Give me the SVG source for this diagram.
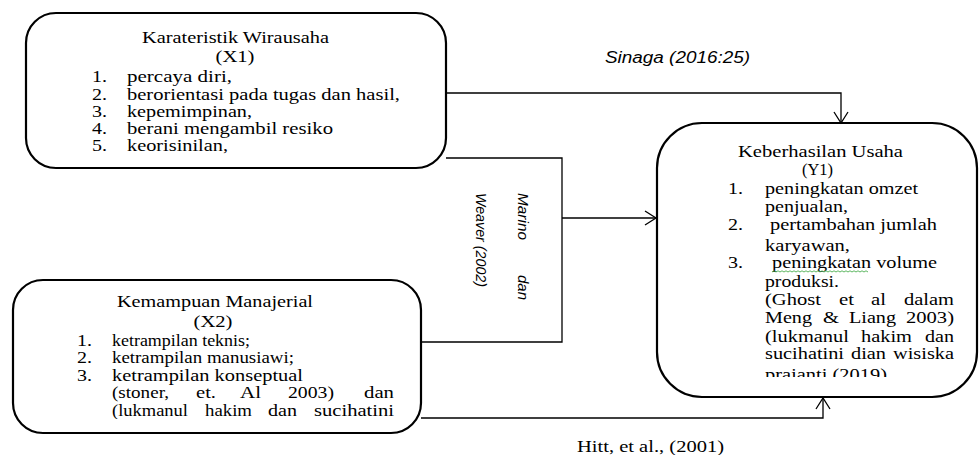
<svg xmlns="http://www.w3.org/2000/svg" width="979" height="455" viewBox="0 0 979 455">
<style>
.box{fill:#fff;stroke:#000;stroke-width:2.2}
.con{fill:none;stroke:#000;stroke-width:1.3}
.t{font-family:"Liberation Serif","Times New Roman",serif;font-size:17px;fill:#000}
.m{text-anchor:middle}
.e{text-anchor:end}
.i{font-family:"Liberation Sans",Arial,sans-serif;font-style:italic;fill:#000}
</style>
<defs>
<marker id="arr" markerUnits="userSpaceOnUse" markerWidth="14" markerHeight="18" viewBox="-12 -9 14 18" refX="0" refY="0" orient="auto"><path d="M-11,-7 L0,0 L-11,7" fill="none" stroke="#000" stroke-width="1.3"/></marker>
<clipPath id="cr"><rect x="0" y="120" width="1000" height="257"/></clipPath>
<clipPath id="cb"><rect x="0" y="275" width="1000" height="144"/></clipPath>
</defs>

<g id="node-x1" class="t">
<rect class="box" x="26" y="13" width="420" height="155" rx="30"/>
<text class="m" x="235.5" y="43" textLength="187" lengthAdjust="spacingAndGlyphs">Karateristik Wirausaha</text>
<text class="m" x="235" y="62" textLength="39" lengthAdjust="spacingAndGlyphs">(X1)</text>
<text x="92" y="82" textLength="15" lengthAdjust="spacingAndGlyphs">1.</text>
<text x="127" y="82" textLength="105" lengthAdjust="spacingAndGlyphs">percaya diri,</text>
<text x="92" y="100" textLength="15" lengthAdjust="spacingAndGlyphs">2.</text>
<text x="127" y="100" textLength="273" lengthAdjust="spacingAndGlyphs">berorientasi pada tugas dan hasil,</text>
<text x="92" y="117" textLength="15" lengthAdjust="spacingAndGlyphs">3.</text>
<text x="127" y="117" textLength="125" lengthAdjust="spacingAndGlyphs">kepemimpinan,</text>
<text x="92" y="134" textLength="15" lengthAdjust="spacingAndGlyphs">4.</text>
<text x="127" y="134" textLength="206" lengthAdjust="spacingAndGlyphs">berani mengambil resiko</text>
<text x="92" y="151" textLength="15" lengthAdjust="spacingAndGlyphs">5.</text>
<text x="127" y="151" textLength="101" lengthAdjust="spacingAndGlyphs">keorisinilan,</text>
</g>

<g id="node-x2" class="t">
<rect class="box" x="13" y="280" width="408" height="153" rx="30"/>
<text class="m" x="215" y="307" textLength="196" lengthAdjust="spacingAndGlyphs">Kemampuan Manajerial</text>
<text class="m" x="213" y="327" textLength="39" lengthAdjust="spacingAndGlyphs">(X2)</text>
<text x="77" y="346" textLength="15" lengthAdjust="spacingAndGlyphs">1.</text>
<text x="112" y="346" textLength="138" lengthAdjust="spacingAndGlyphs">ketrampilan teknis;</text>
<text x="77" y="363" textLength="15" lengthAdjust="spacingAndGlyphs">2.</text>
<text x="112" y="363" textLength="182" lengthAdjust="spacingAndGlyphs">ketrampilan manusiawi;</text>
<text x="77" y="381" textLength="15" lengthAdjust="spacingAndGlyphs">3.</text>
<text x="112" y="381" textLength="191" lengthAdjust="spacingAndGlyphs">ketrampilan konseptual</text>
<text x="112" y="398" textLength="57" lengthAdjust="spacingAndGlyphs">(stoner,</text>
<text x="196" y="398" textLength="20" lengthAdjust="spacingAndGlyphs">et.</text>
<text x="240" y="398" textLength="21" lengthAdjust="spacingAndGlyphs">Al</text>
<text x="288" y="398" textLength="46" lengthAdjust="spacingAndGlyphs">2003)</text>
<text class="e" x="394" y="398" textLength="30" lengthAdjust="spacingAndGlyphs">dan</text>
<g clip-path="url(#cb)">
<text x="112" y="416" textLength="76" lengthAdjust="spacingAndGlyphs">(lukmanul</text>
<text x="205" y="416" textLength="47" lengthAdjust="spacingAndGlyphs">hakim</text>
<text x="268" y="416" textLength="29" lengthAdjust="spacingAndGlyphs">dan</text>
<text class="e" x="394" y="416" textLength="80" lengthAdjust="spacingAndGlyphs">sucihatini</text>
</g>
</g>

<g id="node-y1" class="t">
<rect class="box" x="657" y="123" width="320" height="274" rx="45"/>
<text class="m" x="820.5" y="157" textLength="165" lengthAdjust="spacingAndGlyphs">Keberhasilan Usaha</text>
<text class="m" x="817.5" y="175" textLength="31" lengthAdjust="spacingAndGlyphs">(Y1)</text>
<text x="728" y="194" textLength="15" lengthAdjust="spacingAndGlyphs">1.</text>
<text x="765" y="194" textLength="153" lengthAdjust="spacingAndGlyphs">peningkatan omzet</text>
<text x="765" y="212" textLength="83" lengthAdjust="spacingAndGlyphs">penjualan,</text>
<text x="728" y="230" textLength="15" lengthAdjust="spacingAndGlyphs">2.</text>
<text x="770" y="230" textLength="167" lengthAdjust="spacingAndGlyphs">pertambahan jumlah</text>
<text x="765" y="251" textLength="85" lengthAdjust="spacingAndGlyphs">karyawan,</text>
<text x="728" y="268" textLength="15" lengthAdjust="spacingAndGlyphs">3.</text>
<text x="772" y="268" textLength="165" lengthAdjust="spacingAndGlyphs">peningkatan volume</text>
<text x="765" y="287" textLength="74" lengthAdjust="spacingAndGlyphs">produksi.</text>
<text x="765" y="305" textLength="56" lengthAdjust="spacingAndGlyphs">(Ghost</text>
<text x="839" y="305" textLength="15" lengthAdjust="spacingAndGlyphs">et</text>
<text x="871" y="305" textLength="15" lengthAdjust="spacingAndGlyphs">al</text>
<text class="e" x="954" y="305" textLength="50" lengthAdjust="spacingAndGlyphs">dalam</text>
<text x="765" y="323" textLength="47" lengthAdjust="spacingAndGlyphs">Meng</text>
<text x="823" y="323" textLength="16" lengthAdjust="spacingAndGlyphs">&amp;</text>
<text x="849" y="323" textLength="47" lengthAdjust="spacingAndGlyphs">Liang</text>
<text class="e" x="954" y="323" textLength="48" lengthAdjust="spacingAndGlyphs">2003)</text>
<text x="765" y="342" textLength="84" lengthAdjust="spacingAndGlyphs">(lukmanul</text>
<text x="861" y="342" textLength="51" lengthAdjust="spacingAndGlyphs">hakim</text>
<text class="e" x="954" y="342" textLength="29" lengthAdjust="spacingAndGlyphs">dan</text>
<text x="765" y="359" textLength="79" lengthAdjust="spacingAndGlyphs">sucihatini</text>
<text x="851" y="359" textLength="35" lengthAdjust="spacingAndGlyphs">dian</text>
<text class="e" x="954" y="359" textLength="61" lengthAdjust="spacingAndGlyphs">wisiska</text>
<g clip-path="url(#cr)"><text x="765" y="380" textLength="122" lengthAdjust="spacingAndGlyphs">prajanti (2019)</text></g>
<path d="M772,272 l2,-1.2 l2,1.2 l2,-1.2 l2,1.2 l2,-1.2 l2,1.2 l2,-1.2 l2,1.2 l2,-1.2 l2,1.2 l2,-1.2 l2,1.2 l2,-1.2 l2,1.2 l2,-1.2 l2,1.2 l2,-1.2 l2,1.2 l2,-1.2 l2,1.2 l2,-1.2 l2,1.2 l2,-1.2 l2,1.2 l2,-1.2 l2,1.2 l2,-1.2 l2,1.2 l2,-1.2 l2,1.2 l2,-1.2 l2,1.2 l2,-1.2 l2,1.2 l2,-1.2 l2,1.2 l2,-1.2 l2,1.2 l2,-1.2 l2,1.2 l2,-1.2 l2,1.2 l2,-1.2 l2,1.2 l2,-1.2 l2,1.2 l2,-1.2 l2,1.2" fill="none" stroke="#4caf50" stroke-width="0.9"/>
</g>

<g id="connectors">
<path class="con" d="M446,93 H841 V123" marker-end="url(#arr)"/>
<path class="con" d="M446,158 H562 V342 H421"/>
<path class="con" d="M562,218 H656" marker-end="url(#arr)"/>
<path class="con" d="M421,418 H823 V398" marker-end="url(#arr)"/>
</g>

<g id="labels">
<text class="i" x="605" y="63" font-size="16" textLength="145" lengthAdjust="spacingAndGlyphs">Sinaga (2016:25)</text>
<g transform="translate(518,193) rotate(90)">
<text class="i" font-size="15" x="0" y="0" textLength="47" lengthAdjust="spacingAndGlyphs">Marino</text>
<text class="i e" font-size="15" x="107" y="0">dan</text>
</g>
<g transform="translate(476,193) rotate(90)">
<text class="i" font-size="15" x="0" y="0" textLength="94" lengthAdjust="spacingAndGlyphs">Weaver (2002)</text>
</g>
<text class="t" x="577" y="452" textLength="147" lengthAdjust="spacingAndGlyphs">Hitt, et al., (2001)</text>
</g>
</svg>
